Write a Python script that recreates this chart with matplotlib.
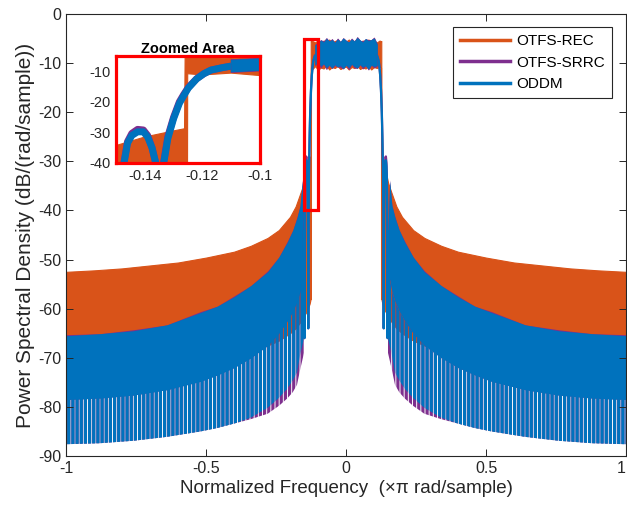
import numpy as np
import matplotlib.pyplot as plt
from matplotlib.lines import Line2D
from matplotlib.patches import Rectangle

plt.rcParams['font.family'] = ['Liberation Sans', 'DejaVu Sans']
plt.rcParams['axes.unicode_minus'] = False
# the sidelobe nulls are drawn as a dense vertical hatch
plt.rcParams['hatch.linewidth'] = 2.3

names = ['OTFS-REC', 'OTFS-SRRC', 'ODDM']
colors = ['#D95319', '#7E2F8E', '#0072BD']

# ---- OTFS-REC: sidelobe envelope for f < 0 (mirrored for f > 0) ----
rec_f = [-1.0, -0.9, -0.8, -0.7, -0.6, -0.5, -0.4, -0.34, -0.28, -0.24,
         -0.2, -0.18, -0.16, -0.15, -0.14, -0.13, -0.1262, -0.126, -0.1252]
rec_hi = [-52.5, -52.2, -51.8, -51.2, -50.6, -49.6, -48.4, -47.2, -45.6, -44.0,
          -41.3, -39.2, -36.0, -34.3, -31.5, -29.5, -28.8, -5.5, -5.5]
rec_lo = [-72.8, -72.5, -72.0, -71.5, -71.0, -70.2, -69.2, -68.4, -67.5, -66.5,
          -65.0, -64.0, -62.5, -61.5, -60.5, -59.0, -58.0, -58.0, -58.0]
# OTFS-REC passband
rec_pass_f = np.concatenate([[-0.1251], np.linspace(-0.12, 0.12, 25), [0.1251]])
rec_pass_hi = [-5.6, -5.5, -5.8, -5.3, -5.9, -5.4, -5.7, -5.2, -5.8, -5.5, -5.3, -5.9, -5.4, -5.6,
               -5.2, -5.8, -5.5, -5.3, -5.7, -5.4, -5.9, -5.2, -5.6, -5.5, -5.8, -5.4, -5.6]
rec_pass_lo = [-10.8, -11.2, -10.6, -11.4, -10.9, -11.1, -10.5, -11.3, -10.8, -11.0, -10.6, -11.2, -10.9, -10.7,
               -11.3, -10.8, -11.0, -10.5, -11.2, -10.9, -11.1, -10.6, -11.3, -10.8, -11.0, -10.7, -10.9]

# ---- ODDM / OTFS-SRRC sidelobes for f < 0: top, bottom of solid part, bottom of nulls ----
side_f = [-1.0, -0.88, -0.76, -0.64, -0.52, -0.46, -0.40, -0.34, -0.28, -0.24,
          -0.21, -0.19, -0.175, -0.164, -0.156, -0.15]
oddm_hi = [-65.5, -65.1, -64.5, -63.3, -60.8, -59.5, -57.6, -55.3, -52.5, -49.5,
           -46.5, -44.0, -41.5, -39.0, -34.0, -44.0]
oddm_mid = [-78.5, -78.2, -77.6, -76.5, -74.8, -73.5, -72.0, -70.0, -67.5, -65.0,
            -62.5, -60.5, -58.5, -56.5, -54.0, -54.0]
oddm_lo = [-87.6, -87.4, -86.9, -86.1, -85.0, -84.3, -83.4, -82.2, -80.2, -78.2,
           -76.3, -74.6, -73.0, -69.5, -67.5, -66.0]
srrc_hi = [-65.3, -65.1, -64.3, -63.3, -60.6, -59.5, -57.4, -55.3, -52.3, -49.5,
           -46.3, -44.0, -41.3, -39.0, -33.8, -44.0]
srrc_mid = [-78.5, -78.2, -77.6, -76.5, -74.8, -73.5, -72.0, -70.0, -67.5, -65.0,
            -62.5, -60.5, -58.5, -56.5, -54.0, -54.0]
srrc_lo = [-87.6, -87.4, -86.9, -86.1, -85.0, -84.3, -83.4, -82.5, -81.4, -79.8,
           -78.3, -77.0, -75.5, -72.5, -70.5, -69.0]

# ---- main-lobe edge for f < 0 ----
edge_f = [-0.1500, -0.1492, -0.1486, -0.1480, -0.1472, -0.1460, -0.1445, -0.1425, -0.1405,
          -0.1390, -0.1375, -0.1362, -0.1355, -0.1348, -0.1341, -0.1336, -0.1320, -0.1300,
          -0.1280, -0.1265, -0.1249, -0.1220, -0.1195, -0.1170, -0.1130, -0.1100]
oddm_edge = [-44, -55, -66, -50, -40, -33.5, -31, -29.8, -29.8,
             -31.5, -35, -40, -48, -64, -48, -41, -32, -25.5,
             -20.5, -18, -15.5, -12.5, -10.8, -9.6, -8.8, -8.3]
srrc_edge = [-44, -55, -66, -50, -39.5, -33, -30.3, -29.0, -29.2,
             -31, -35, -40, -48, -64, -48, -40.5, -31.3, -25,
             -20, -17.6, -15.3, -12.4, -10.8, -9.6, -8.8, -8.3]

# ---- passband ----
pass_f = np.linspace(-0.11, 0.11, 23)
oddm_pass_hi = [-6.4, -5.9, -5.4, -5.8, -5.1, -5.6, -5.3, -5.9, -5.2, -5.7, -5.0, -5.5,
                -5.8, -5.2, -5.6, -4.9, -5.4, -5.8, -5.1, -5.5, -5.3, -5.0, -6.2]
oddm_pass_lo = [-10.2, -9.7, -10.5, -10.0, -10.8, -10.3, -10.9, -10.2, -10.7, -10.4, -11.0, -10.3,
                -10.8, -10.1, -10.6, -10.9, -10.2, -10.7, -10.4, -11.1, -10.3, -10.6, -10.4]
srrc_pass_hi = [-6.2, -5.8, -5.3, -5.6, -4.9, -5.6, -5.1, -5.9, -5.0, -5.7, -4.9, -5.4,
                -5.8, -5.0, -5.6, -4.7, -5.4, -5.6, -5.1, -5.3, -5.3, -4.8, -6.0]
srrc_pass_lo = [-10.4, -9.9, -10.9, -10.0, -11.2, -10.3, -11.0, -10.4, -10.7, -10.8, -11.1, -10.3,
                -11.2, -10.1, -10.9, -11.0, -10.2, -11.1, -10.4, -11.3, -10.3, -10.9, -10.6]

xticks = [-1, -0.5, 0, 0.5, 1]
xtick_labels = ['-1', '-0.5', '0', '0.5', '1']
yticks = [-90, -80, -70, -60, -50, -40, -30, -20, -10, 0]

zoom_x = (-0.15, -0.10)
zoom_y = (-40, -5)
zoom_xticks = [-0.14, -0.12, -0.1]
zoom_xtick_labels = ['-0.14', '-0.12', '-0.1']
zoom_yticks = [-40, -30, -20, -10]

axis_gray = '#262626'


def draw_psd(ax, edge_lw):
    # OTFS-REC as one closed band across the whole band
    rf = np.array(rec_f)
    f = np.concatenate([rf, rec_pass_f, -rf[::-1]])
    hi = np.concatenate([rec_hi, rec_pass_hi, rec_hi[::-1]])
    lo = np.concatenate([rec_lo, rec_pass_lo, rec_lo[::-1]])
    ax.fill_between(f, lo, hi, color=colors[0], lw=0.8)

    series = [
        (colors[1], srrc_hi, srrc_mid, srrc_lo, srrc_edge, srrc_pass_hi, srrc_pass_lo),
        (colors[2], oddm_hi, oddm_mid, oddm_lo, oddm_edge, oddm_pass_hi, oddm_pass_lo),
    ]
    for col, s_hi, s_mid, s_lo, e_db, p_hi, p_lo in series:
        for s in (-1, 1):
            x = s * np.array(side_f)
            # deep nulls below the solid part
            ax.fill_between(x, s_lo, s_mid, facecolor='none', edgecolor=col,
                            hatch='||||', lw=0)
            ax.fill_between(x, s_mid, s_hi, color=col, lw=0)
            ax.plot(s * np.array(edge_f), e_db, color=col, lw=edge_lw,
                    solid_joinstyle='round', solid_capstyle='butt')
        ax.fill_between(pass_f, p_lo, p_hi, color=col, lw=0.6)


fig = plt.figure(figsize=(6.27, 5.08), dpi=100)
ax = fig.add_axes([66 / 627, 52 / 508, 560 / 627, 442 / 508])
draw_psd(ax, 1.6)

ax.set_xlim(-1, 1)
ax.set_ylim(-90, 0)
ax.set_xticks(xticks)
ax.set_xticklabels(xtick_labels)
ax.get_xticklabels()[-1].set_ha('right')
ax.set_yticks(yticks)
ax.tick_params(direction='in', length=5, width=0.7, colors=axis_gray,
               labelsize=11.5, top=True, right=True)
for sp in ax.spines.values():
    sp.set_color(axis_gray)
    sp.set_linewidth(0.8)
ax.set_xlabel('Normalized Frequency  (\u00d7\u03c0 rad/sample)', fontsize=13.5, color=axis_gray, labelpad=3)
ax.set_ylabel('Power Spectral Density (dB/(rad/sample))', fontsize=15, color=axis_gray, labelpad=2)

ax.add_patch(Rectangle((zoom_x[0], zoom_y[0]), zoom_x[1] - zoom_x[0], zoom_y[1] - zoom_y[0],
                       fill=False, ec='red', lw=2.3, zorder=5))

handles = [Line2D([], [], color=c, lw=2.5) for c in colors]
leg = ax.legend(handles, names, loc='upper right', bbox_to_anchor=(612 / 627, 1 - 27 / 508),
                bbox_transform=fig.transFigure, fontsize=11, handlelength=3.3,
                fancybox=False, edgecolor=axis_gray, framealpha=1, borderpad=0.45,
                labelspacing=0.5, handletextpad=0.4, borderaxespad=0)
leg.get_frame().set_linewidth(0.8)

# inset with the left main-lobe edge
ax_in = fig.add_axes([116 / 627, 1 - 163 / 508, 144 / 627, 107 / 508])
draw_psd(ax_in, 5)
ax_in.set_xlim(*zoom_x)
ax_in.set_ylim(*zoom_y)
ax_in.set_xticks(zoom_xticks)
ax_in.set_xticklabels(zoom_xtick_labels)
ax_in.set_yticks(zoom_yticks)
ax_in.tick_params(length=0, labelsize=10.5, colors=axis_gray, pad=4)
for sp in ax_in.spines.values():
    sp.set_color('red')
    sp.set_linewidth(2.3)
ax_in.set_title('Zoomed Area', fontsize=10.5, fontweight='bold', pad=2)

fig.savefig('out.png', dpi=100)
